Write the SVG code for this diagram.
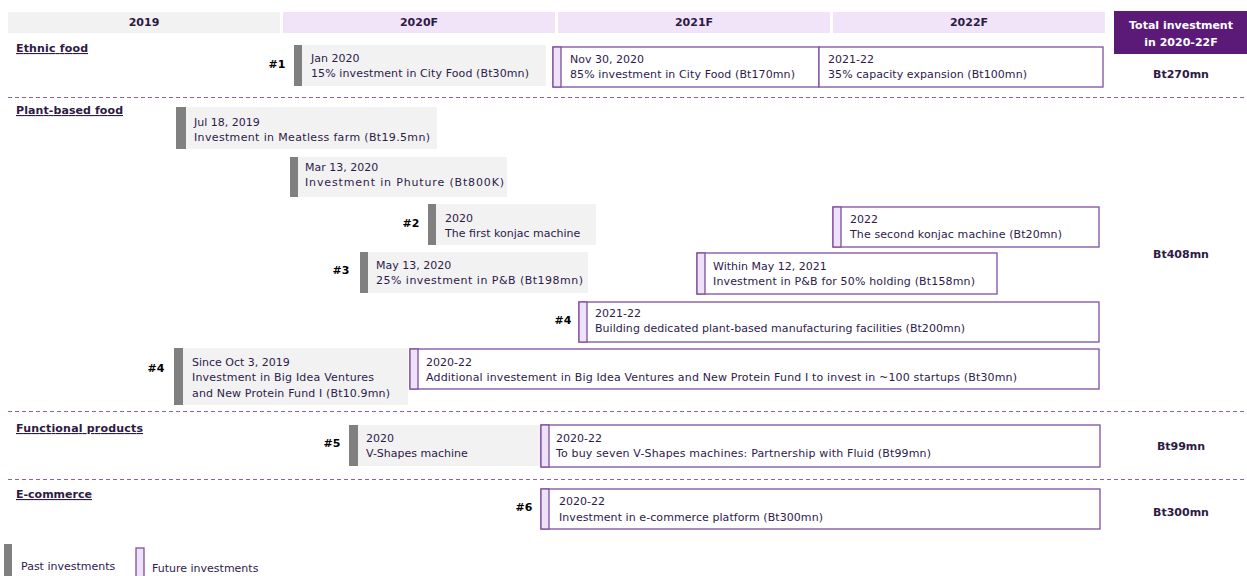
<svg xmlns="http://www.w3.org/2000/svg" width="1247" height="576" viewBox="0 0 1247 576">
<style>
text{font-family:"DejaVu Sans",sans-serif;font-size:11px;fill:#2e1a4a}
.hd{font-weight:bold;text-anchor:middle;fill:#2d1a45}
.hb{fill:#f1e4f9}
.cat{font-weight:bold;text-decoration:underline;fill:#2d1a45}
.num{font-weight:bold;fill:#000;text-anchor:middle}
.tot{font-weight:bold;text-anchor:middle;fill:#2d1a45}
.pbar{fill:#808080}
.pbox{fill:#f2f2f2}
.fbox{fill:#fff;stroke:#7f4f9f;stroke-width:1.3}
.fbar{fill:#efe1f7;stroke:#7f4f9f;stroke-width:1.3}
.dash{stroke:#8a63ab;stroke-width:1;stroke-dasharray:4 3;fill:none}
</style>
<rect width="1247" height="576" fill="#fff"/>
<g id="header">
<rect x="8" y="12" width="272" height="21" fill="#f2f2f2"/>
<rect class="hb" x="283" y="12" width="272" height="21"/>
<rect class="hb" x="558" y="12" width="272" height="21"/>
<rect class="hb" x="833" y="12" width="272" height="21"/>
<text class="hd" x="144" y="26">2019</text>
<text class="hd" x="419" y="26">2020F</text>
<text class="hd" x="694" y="26">2021F</text>
<text class="hd" x="969" y="26">2022F</text>
<rect x="1114" y="11" width="133" height="43" fill="#5b1a78"/>
<text class="hd" x="1181" y="29" style="fill:#fff">Total investment</text>
<text class="hd" x="1181" y="46" style="fill:#fff">in 2020-22F</text>
</g>
<g id="separators">
<line class="dash" x1="8" y1="97.5" x2="1247" y2="97.5"/>
<line class="dash" x1="8" y1="411.5" x2="1247" y2="411.5"/>
<line class="dash" x1="8" y1="479.5" x2="1247" y2="479.5"/>
</g>
<g id="categories">
<text class="cat" x="16" y="52" textLength="72" lengthAdjust="spacing">Ethnic food</text>
<text class="cat" x="16" y="114" textLength="107" lengthAdjust="spacing">Plant-based food</text>
<text class="cat" x="16" y="432" textLength="127" lengthAdjust="spacing">Functional products</text>
<text class="cat" x="16" y="498">E-commerce</text>
</g>
<g id="totals">
<text class="tot" x="1181" y="78">Bt270mn</text>
<text class="tot" x="1181" y="258">Bt408mn</text>
<text class="tot" x="1181" y="450">Bt99mn</text>
<text class="tot" x="1181" y="516">Bt300mn</text>
</g>
<g id="ethnic-past">
<text class="num" x="277" y="68">#1</text>
<rect class="pbox" x="302" y="45" width="244" height="41"/>
<rect class="pbar" x="294" y="45" width="8" height="41"/>
<text x="311" y="62">Jan 2020</text>
<text x="311" y="77" textLength="218" lengthAdjust="spacing">15% investment in City Food (Bt30mn)</text>
</g>
<g id="ethnic-future-1">
<rect class="fbox" x="553" y="47" width="266" height="40"/>
<rect class="fbar" x="553" y="47" width="8" height="40"/>
<text x="570" y="63">Nov 30, 2020</text>
<text x="570" y="78" textLength="225" lengthAdjust="spacing">85% investment in City Food (Bt170mn)</text>
</g>
<g id="ethnic-future-2">
<rect class="fbox" x="819" y="47" width="284" height="40"/>
<text x="828" y="63">2021-22</text>
<text x="828" y="78" textLength="199" lengthAdjust="spacing">35% capacity expansion (Bt100mn)</text>
</g>
<g id="meatless">
<rect class="pbox" x="186" y="107" width="251" height="42"/>
<rect class="pbar" x="176" y="107" width="10" height="42"/>
<text x="194" y="126">Jul 18, 2019</text>
<text x="194" y="141" textLength="236" lengthAdjust="spacing">Investment in Meatless farm (Bt19.5mn)</text>
</g>
<g id="phuture">
<rect class="pbox" x="298" y="157" width="209" height="40"/>
<rect class="pbar" x="290" y="157" width="8" height="40"/>
<text x="305" y="171">Mar 13, 2020</text>
<text x="305" y="186" textLength="199" lengthAdjust="spacing">Investment in Phuture (Bt800K)</text>
</g>
<g id="konjac-1">
<text class="num" x="411" y="227">#2</text>
<rect class="pbox" x="436" y="204" width="160" height="41"/>
<rect class="pbar" x="428" y="204" width="8" height="41"/>
<text x="445" y="222">2020</text>
<text x="445" y="237">The first konjac machine</text>
</g>
<g id="konjac-2">
<rect class="fbox" x="833" y="207" width="266" height="40"/>
<rect class="fbar" x="833" y="207" width="8" height="40"/>
<text x="850" y="223">2022</text>
<text x="850" y="238" textLength="212" lengthAdjust="spacing">The second konjac machine (Bt20mn)</text>
</g>
<g id="pb-1">
<text class="num" x="341" y="274">#3</text>
<rect class="pbox" x="368" y="252" width="220" height="41"/>
<rect class="pbar" x="360" y="252" width="8" height="41"/>
<text x="376" y="269">May 13, 2020</text>
<text x="376" y="284" textLength="207" lengthAdjust="spacing">25% investment in P&amp;B (Bt198mn)</text>
</g>
<g id="pb-2">
<rect class="fbox" x="697" y="253" width="300" height="41"/>
<rect class="fbar" x="697" y="253" width="8" height="41"/>
<text x="713" y="270">Within May 12, 2021</text>
<text x="713" y="285" textLength="262" lengthAdjust="spacing">Investment in P&amp;B for 50% holding (Bt158mn)</text>
</g>
<g id="facilities">
<text class="num" x="563" y="324">#4</text>
<rect class="fbox" x="579" y="302" width="520" height="40"/>
<rect class="fbar" x="579" y="302" width="8" height="40"/>
<text x="595" y="317">2021-22</text>
<text x="595" y="332" textLength="370" lengthAdjust="spacing">Building dedicated plant-based manufacturing facilities (Bt200mn)</text>
</g>
<g id="bigidea-past">
<text class="num" x="156" y="372">#4</text>
<rect class="pbox" x="183" y="348" width="225" height="57"/>
<rect class="pbar" x="174" y="348" width="9" height="57"/>
<text x="192" y="366">Since Oct 3, 2019</text>
<text x="192" y="381" textLength="182" lengthAdjust="spacing">Investment in Big Idea Ventures</text>
<text x="192" y="397" textLength="198" lengthAdjust="spacing">and New Protein Fund I (Bt10.9mn)</text>
</g>
<g id="bigidea-future">
<rect class="fbox" x="410" y="349" width="689" height="40"/>
<rect class="fbar" x="410" y="349" width="8" height="40"/>
<text x="426" y="366">2020-22</text>
<text x="426" y="381" textLength="591" lengthAdjust="spacing">Additional investement in Big Idea Ventures and New Protein Fund I to invest in ~100 startups (Bt30mn)</text>
</g>
<g id="vshapes-past">
<text class="num" x="332" y="447">#5</text>
<rect class="pbox" x="358" y="425" width="183" height="41"/>
<rect class="pbar" x="349" y="425" width="9" height="41"/>
<text x="366" y="442">2020</text>
<text x="366" y="457">V-Shapes machine</text>
</g>
<g id="vshapes-future">
<rect class="fbox" x="541" y="425" width="559" height="42"/>
<rect class="fbar" x="541" y="425" width="8" height="42"/>
<text x="556" y="442">2020-22</text>
<text x="556" y="457" textLength="375" lengthAdjust="spacing">To buy seven V-Shapes machines: Partnership with Fluid (Bt99mn)</text>
</g>
<g id="ecommerce">
<text class="num" x="524" y="511">#6</text>
<rect class="fbox" x="541" y="489" width="559" height="40"/>
<rect class="fbar" x="541" y="489" width="8" height="40"/>
<text x="559" y="505">2020-22</text>
<text x="559" y="521" textLength="264" lengthAdjust="spacing">Investment in e-commerce platform (Bt300mn)</text>
</g>
<g id="legend">
<rect class="pbar" x="4" y="544" width="8" height="32"/>
<text x="21" y="570">Past investments</text>
<rect class="fbar" x="136" y="548" width="8" height="30"/>
<text x="152" y="572">Future investments</text>
</g>
</svg>
